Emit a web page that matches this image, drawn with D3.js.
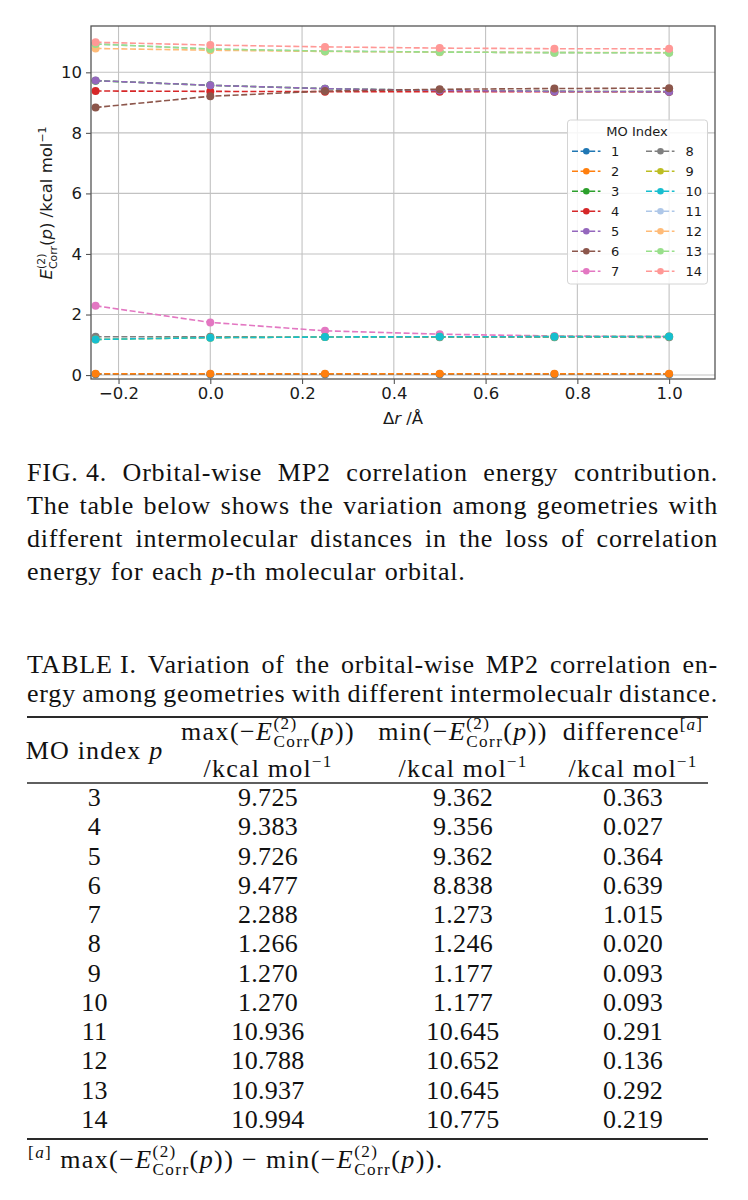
<!DOCTYPE html>
<html><head><meta charset="utf-8">
<script src="https://cdn.jsdelivr.net/npm/d3@7"></script>
<style>
body{margin:0;background:#fff;}
</style></head>
<body>
<svg id="fig" width="748" height="1200" xmlns="http://www.w3.org/2000/svg"></svg>
<script>
// ---------------- data ----------------
const xValues = [-0.25, 0.0, 0.25, 0.5, 0.75, 1.0];
const moIndex = [1,2,3,4,5,6,7,8,9,10,11,12,13,14];
const mo1  = [0.030, 0.030, 0.030, 0.030, 0.030, 0.030];
const mo2  = [0.040, 0.040, 0.040, 0.040, 0.040, 0.040];
const mo3  = [9.725, 9.57, 9.46, 9.40, 9.37, 9.362];
const mo4  = [9.383, 9.370, 9.362, 9.358, 9.356, 9.356];
const mo5  = [9.726, 9.57, 9.46, 9.40, 9.37, 9.362];
const mo6  = [8.838, 9.21, 9.38, 9.44, 9.465, 9.477];
const mo7  = [2.288, 1.74, 1.46, 1.35, 1.29, 1.273];
const mo8  = [1.266, 1.262, 1.257, 1.252, 1.248, 1.246];
const mo9  = [1.177, 1.235, 1.258, 1.266, 1.269, 1.270];
const mo10 = [1.177, 1.235, 1.258, 1.266, 1.269, 1.270];
const mo11 = [10.936, 10.77, 10.70, 10.67, 10.65, 10.645];
const mo12 = [10.788, 10.73, 10.69, 10.665, 10.655, 10.652];
const mo13 = [10.937, 10.77, 10.70, 10.67, 10.65, 10.645];
const mo14 = [10.994, 10.90, 10.84, 10.80, 10.78, 10.775];
const seriesValues = [mo1,mo2,mo3,mo4,mo5,mo6,mo7,mo8,mo9,mo10,mo11,mo12,mo13,mo14];
const xTicks = [-0.2, 0.0, 0.2, 0.4, 0.6, 0.8, 1.0];
const yTicks = [0, 2, 4, 6, 8, 10];

const tableMO   = ['3','4','5','6','7','8','9','10','11','12','13','14'];
const tableMax  = ['9.725','9.383','9.726','9.477','2.288','1.266','1.270','1.270','10.936','10.788','10.937','10.994'];
const tableMin  = ['9.362','9.356','9.362','8.838','1.273','1.246','1.177','1.177','10.645','10.652','10.645','10.775'];
const tableDiff = ['0.363','0.027','0.364','0.639','1.015','0.020','0.093','0.093','0.291','0.136','0.292','0.219'];

// ---------------- styles ----------------
const colors = ['#1f77b4','#ff7f0e','#2ca02c','#d62728','#9467bd','#8c564b','#e377c2',
                '#7f7f7f','#bcbd22','#17becf','#aec7e8','#ffbb78','#98df8a','#ff9896'];
const SANS = 'DejaVu Sans';
const SERIF = 'Liberation Serif';

const svg = d3.select('#fig');

// math-ish text helper: segs = [{t, it, sup, sub} | {ss:[sup, sub]}]
function mathText(parent, x, y, anchor, F, segs, family, ls) {
  const t = parent.append('text').attr('x', x).attr('y', y).attr('text-anchor', anchor)
    .style('font-family', family).style('font-size', F + 'px');
  if (ls) t.style('letter-spacing', ls + 'px');
  let off = 0, pending = 0;
  const small = 0.66 * F;
  segs.forEach(s => {
    if (typeof s === 'string') s = {t: s};
    if (s.ss) {
      const supT = -0.44 * F, subT = 0.28 * F;
      const a = t.append('tspan').text(s.ss[0]).style('font-size', small + 'px').attr('dy', supT - off);
      off = supT;
      if (pending) { a.attr('dx', pending); pending = 0; }
      const w1 = a.node().getComputedTextLength();
      const b = t.append('tspan').text(s.ss[1]).style('font-size', small + 'px')
        .attr('dy', subT - off).attr('dx', -w1);
      off = subT;
      const w2 = b.node().getComputedTextLength();
      pending = Math.max(0, w1 - w2);
    } else {
      const T = s.sup ? -0.38 * F : (s.sub ? 0.22 * F : 0);
      const sp = t.append('tspan').text(s.t).attr('dy', T - off);
      off = T;
      if (s.sup || s.sub) sp.style('font-size', small + 'px');
      if (s.it) sp.style('font-style', 'italic');
      if (pending) { sp.attr('dx', pending); pending = 0; }
    }
  });
  return t;
}

function textLine(parent, x0, x1, y, words, F, justify, family, ls) {
  const nodes = words.map(w => mathText(parent, 0, y, 'start', F, typeof w === 'string' ? [{t: w}] : w, family, ls));
  const widths = nodes.map(n => n.node().getComputedTextLength());
  const sum = d3.sum(widths);
  const gap = justify ? (x1 - x0 - sum) / (words.length - 1) : F * 0.33;
  let cx = x0;
  nodes.forEach((n, i) => { n.attr('x', cx); cx += widths[i] + gap; });
}

// ---------------- chart ----------------
const L = 91, R = 715, T = 26, B = 379;
const x = d3.scaleLinear().domain([-0.26, 1.1]).range([L, R]);
const y = d3.scaleLinear().domain([-0.13, 11.53]).range([B, T]);

const chart = svg.append('g').style('font-family', SANS);

// grid
chart.append('g').selectAll('line').data(xTicks).join('line')
  .attr('x1', d => x(d)).attr('x2', d => x(d)).attr('y1', T).attr('y2', B)
  .attr('stroke', '#c2c2c2').attr('stroke-width', 1.1);
chart.append('g').selectAll('line').data(yTicks).join('line')
  .attr('x1', L).attr('x2', R).attr('y1', d => y(d)).attr('y2', d => y(d))
  .attr('stroke', '#c2c2c2').attr('stroke-width', 1.1);

// series
const line = d3.line().x((d, i) => x(xValues[i])).y(d => y(d));
seriesValues.forEach((vals, k) => {
  const g = chart.append('g');
  g.append('path').attr('d', line(vals)).attr('fill', 'none')
    .attr('stroke', colors[k]).attr('stroke-width', 1.6).attr('stroke-dasharray', '6,2.6');
  g.selectAll('circle').data(vals).join('circle')
    .attr('cx', (d, i) => x(xValues[i])).attr('cy', d => y(d)).attr('r', 4).attr('fill', colors[k]);
});

// frame
chart.append('rect').attr('x', L).attr('y', T).attr('width', R - L).attr('height', B - T)
  .attr('fill', 'none').attr('stroke', '#555').attr('stroke-width', 1.3);

// axes
const xAxis = d3.axisBottom(x).tickValues(xTicks).tickFormat(d3.format('.1f')).tickSize(5).tickPadding(3.4);
const yAxis = d3.axisLeft(y).tickValues(yTicks).tickFormat(d3.format('d')).tickSize(5).tickPadding(4);
function styleAxis(g) {
  g.attr('font-size', 16.5).attr('font-family', SANS);
  g.select('.domain').remove();
  g.selectAll('line').attr('stroke', '#555').attr('stroke-width', 1.1);
  g.selectAll('text').attr('fill', '#1a1a1a');
}
chart.append('g').attr('transform', `translate(0,${B})`).call(xAxis).call(styleAxis);
chart.append('g').attr('transform', `translate(${L},0)`).call(yAxis).call(styleAxis);

// axis labels
mathText(chart, 403, 424, 'middle', 16.5, [{t: 'Δ'}, {t: 'r', it: true}, {t: ' /Å'}], SANS).attr('fill', '#1a1a1a');
const ylab = chart.append('g').attr('transform', 'translate(52,203) rotate(-90)');
mathText(ylab, 0, 0, 'middle', 16.5,
  [{t: 'E', it: true}, {ss: ['(2)', 'Corr']}, {t: '('}, {t: 'p', it: true}, {t: ')'},
   {t: ' /kcal mol'}, {t: '−1', sup: true}], SANS).attr('fill', '#1a1a1a');

// legend
const lg = chart.append('g');
lg.append('rect').attr('x', 567.5).attr('y', 120).attr('width', 140).attr('height', 164).attr('rx', 3)
  .attr('fill', '#fff').attr('fill-opacity', 0.85).attr('stroke', '#d4d4d4').attr('stroke-width', 1);
lg.append('text').attr('x', 637).attr('y', 136).attr('text-anchor', 'middle')
  .style('font-size', '13px').attr('fill', '#1a1a1a').text('MO Index');
moIndex.forEach((m, i) => {
  const col = i < 7 ? 0 : 1, row = i % 7;
  const cy = 151.3 + 20 * row;
  const lx0 = col ? 646 : 572, lx1 = col ? 674.5 : 600.5, mx = col ? 660.5 : 586.3, tx = col ? 685.5 : 611;
  lg.append('line').attr('x1', lx0).attr('x2', lx1).attr('y1', cy).attr('y2', cy)
    .attr('stroke', colors[i]).attr('stroke-width', 1.6).attr('stroke-dasharray', '6,2.6');
  lg.append('circle').attr('cx', mx).attr('cy', cy).attr('r', 3.3).attr('fill', colors[i]);
  lg.append('text').attr('x', tx).attr('y', cy + 4.7).style('font-size', '13px').attr('fill', '#1a1a1a').text(m);
});

// ---------------- caption ----------------
const FS = 26;
const cap = svg.append('g').attr('fill', '#111');
textLine(cap, 27, 718, 481, ['FIG. 4. ', 'Orbital-wise', 'MP2', 'correlation', 'energy', 'contribution.'], FS, true, SERIF, 0.8);
textLine(cap, 27, 718, 514, ['The', 'table', 'below', 'shows', 'the', 'variation', 'among', 'geometries', 'with'], FS, true, SERIF, 0.8);
textLine(cap, 27, 718, 547, ['different', 'intermolecular', 'distances', 'in', 'the', 'loss', 'of', 'correlation'], FS, true, SERIF, 0.8);
textLine(cap, 27, 718, 580, ['energy', 'for', 'each', [{t: 'p', it: true}, {t: '-th'}], 'molecular', 'orbital.'], FS, false, SERIF, 0.8);

textLine(cap, 27, 718, 673, ['TABLE I. ', 'Variation', 'of', 'the', 'orbital-wise', 'MP2', 'correlation', 'en-'], FS, true, SERIF, 0.8);
textLine(cap, 27, 718, 702, ['ergy', 'among', 'geometries', 'with', 'different', 'intermolecualr', 'distance.'], FS, true, SERIF, 0.8);

// ---------------- table ----------------
const tb = svg.append('g').attr('fill', '#111');
const colX = [94.5, 268, 463, 633];
const rule = (yy, w) => tb.append('line').attr('x1', 27).attr('x2', 708).attr('y1', yy).attr('y2', yy)
  .attr('stroke', '#2a2a2a').attr('stroke-width', w);
rule(717, 1.8); rule(783, 1.3); rule(1139, 1.8);

const Eseg = [{t: '−'}, {t: 'E', it: true}, {ss: ['(2)', 'Corr']}, {t: '('}, {t: 'p', it: true}, {t: ')'}];
const unitSeg = [{t: '/kcal mol'}, {t: '−1', sup: true}];
mathText(tb, colX[0], 759, 'middle', FS, [{t: 'MO index '}, {t: 'p', it: true}], SERIF, 1.2);
mathText(tb, colX[1], 740, 'middle', FS, [{t: 'max('}, ...Eseg, {t: ')'}], SERIF, 1.4);
mathText(tb, colX[2], 740, 'middle', FS, [{t: 'min('}, ...Eseg, {t: ')'}], SERIF, 1.4);
mathText(tb, colX[3], 740, 'middle', FS, [{t: 'difference'}, {t: '[', sup: true}, {t: 'a', sup: true, it: true}, {t: ']', sup: true}], SERIF, 1.2);
[1, 2, 3].forEach(c => mathText(tb, colX[c], 777, 'middle', FS, unitSeg, SERIF, 1.2));

const rowY = d3.scaleLinear().domain([0, 11]).range([806, 1128]);
const cols = [tableMO, tableMax, tableMin, tableDiff];
cols.forEach((arr, c) => {
  tb.append('g').selectAll('text').data(arr).join('text')
    .attr('x', colX[c]).attr('y', (d, i) => rowY(i)).attr('text-anchor', 'middle')
    .style('font-family', SERIF).style('font-size', FS + 'px').style('letter-spacing', '0.3px').text(d => d);
});

// footnote
mathText(tb, 28, 1168, 'start', FS,
  [{t: '[', sup: true}, {t: 'a', sup: true, it: true}, {t: ']', sup: true}, {t: ' max('}, ...Eseg, {t: ') − min('}, ...Eseg, {t: ').'}], SERIF, 1.4);
</script>
</body></html>
